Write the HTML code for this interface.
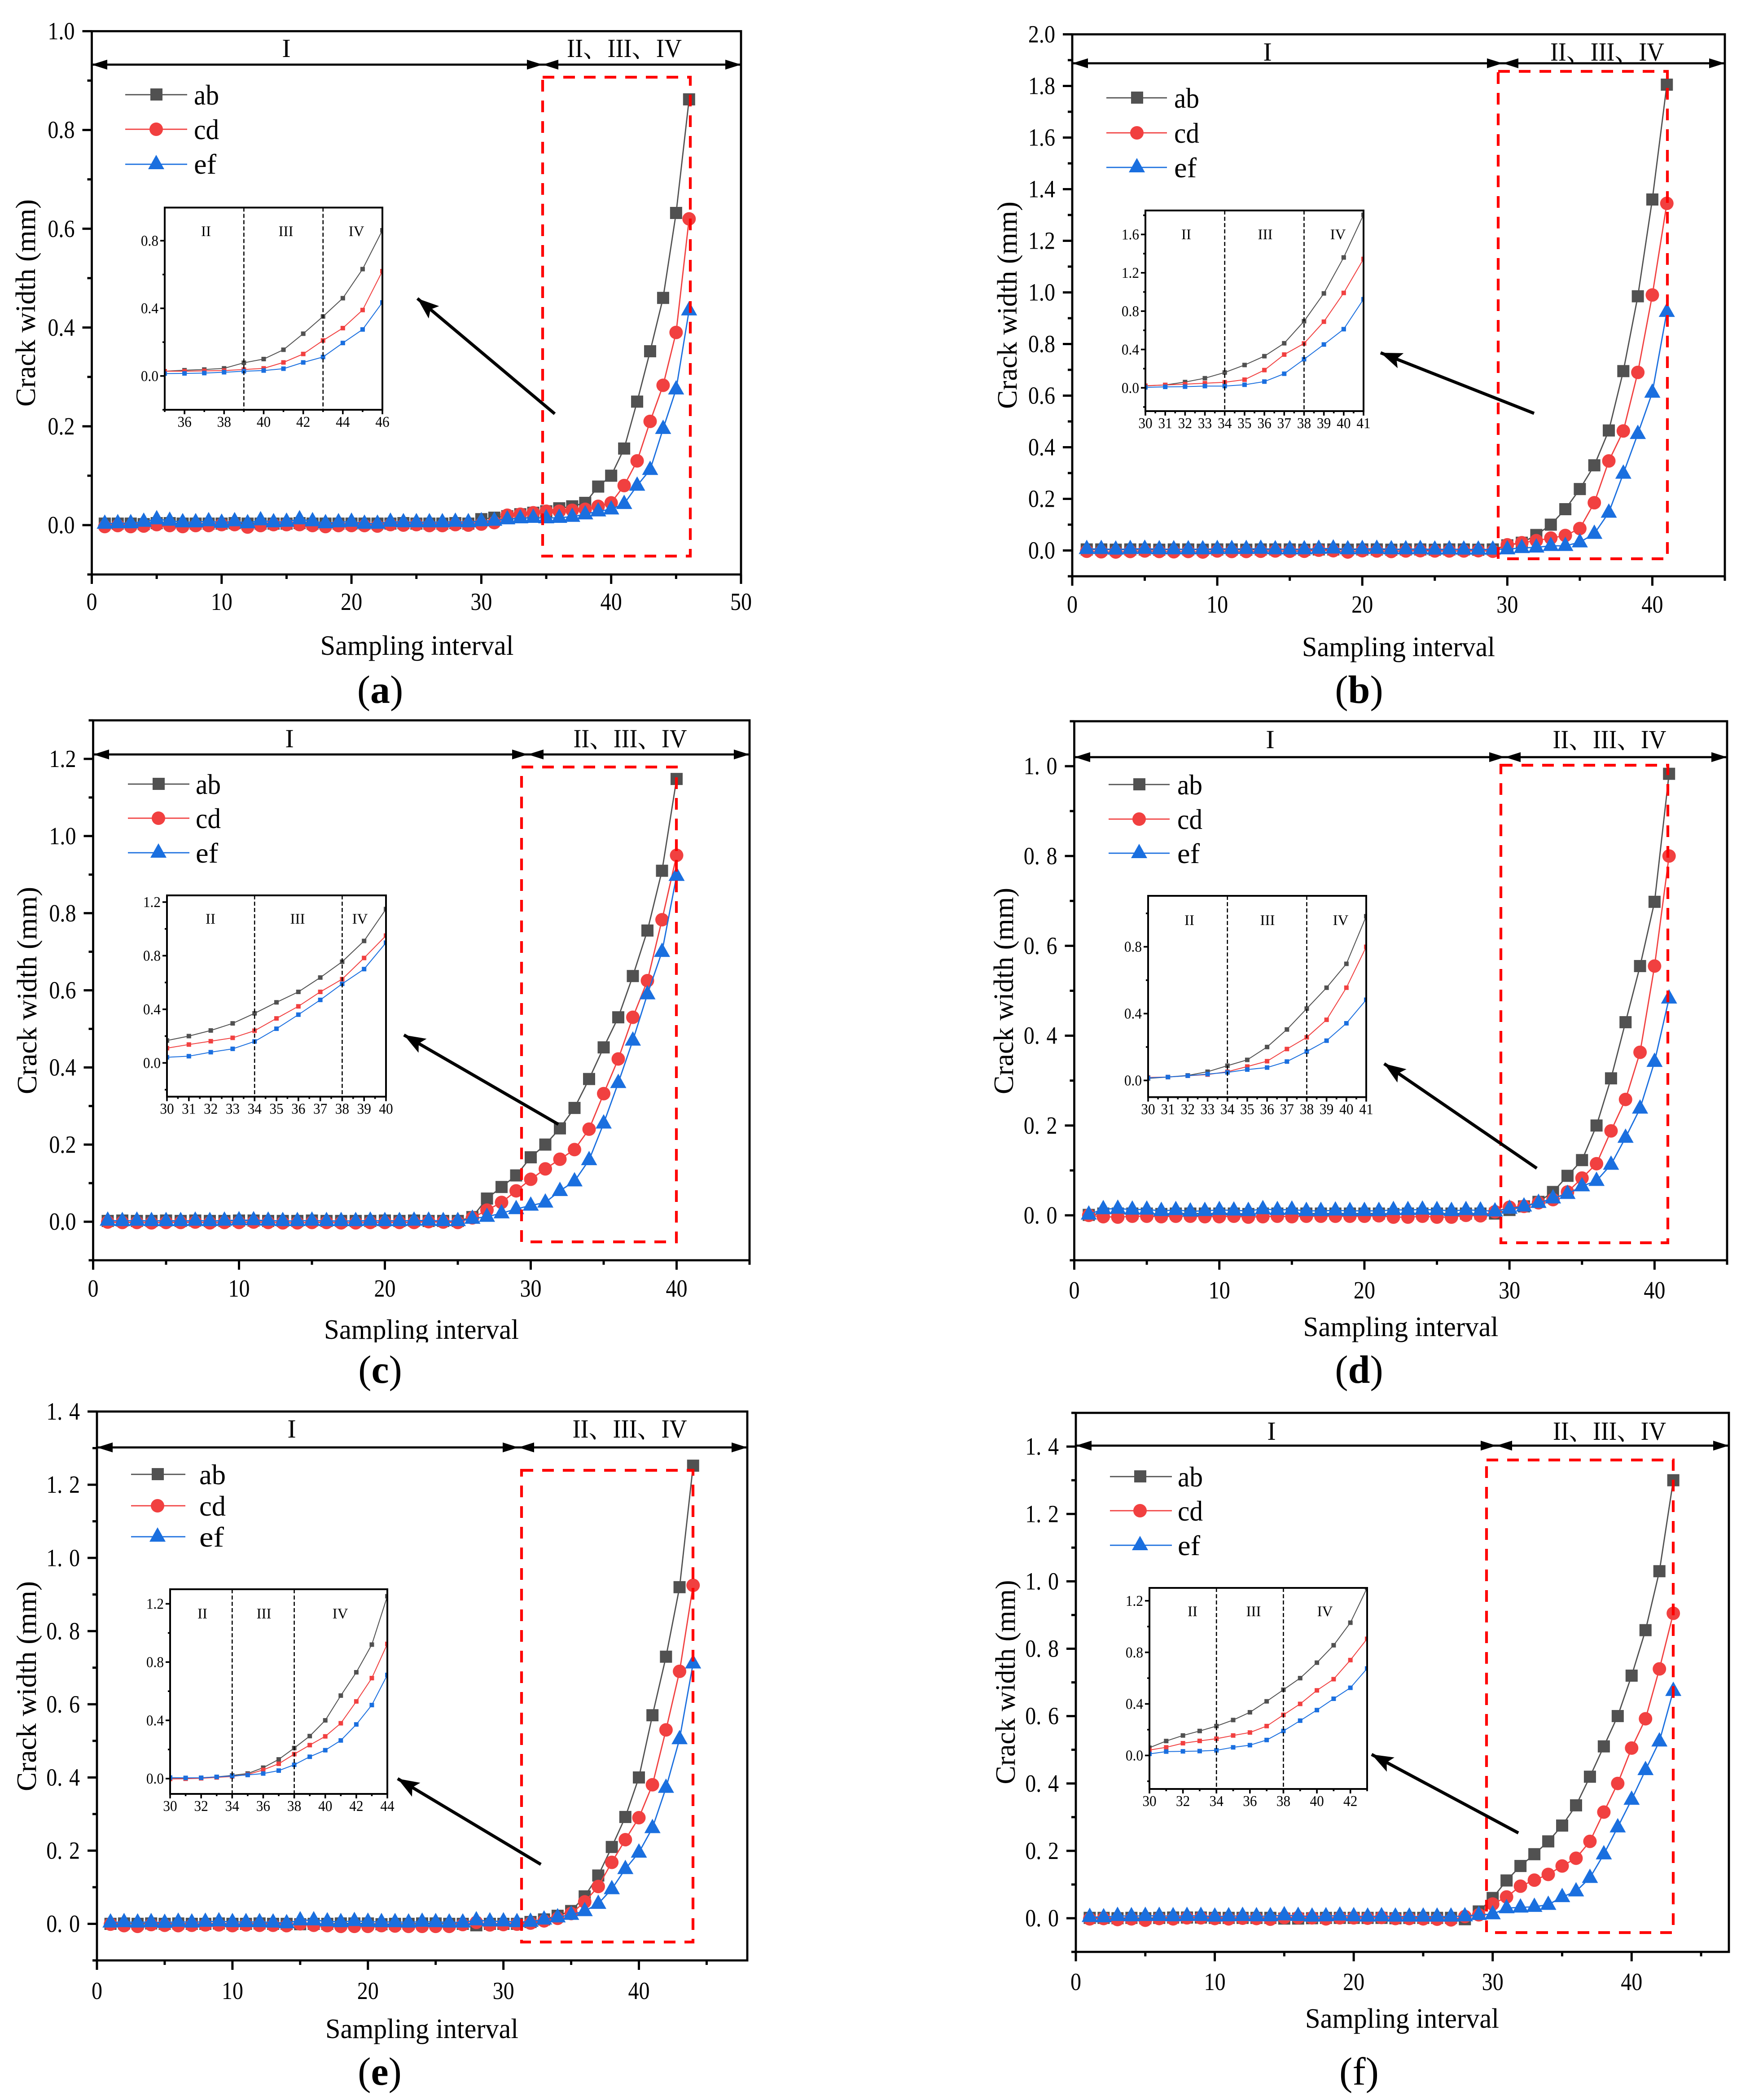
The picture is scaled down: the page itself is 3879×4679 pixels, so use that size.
<!DOCTYPE html>
<html lang="en">
<head>
<meta charset="utf-8">
<title>Crack width versus sampling interval</title>
<style>
html,body{margin:0;padding:0;background:#fff;}
svg{display:block;font-family:"Liberation Serif","Noto Serif CJK SC",serif;fill:#000;}
.frame{fill:none;stroke:#000;stroke-width:4.8;}
.region{font-size:58px;text-anchor:middle;}
.ytitle,.xtitle{font-size:62px;text-anchor:middle;}
.cap{font-size:88px;text-anchor:middle;}
.leg{font-size:64px;}
.inl{font-size:33px;text-anchor:middle;}
.red{fill:none;stroke:#ff0000;stroke-width:6.2;stroke-dasharray:26 20;}
.range{stroke:#000;stroke-width:4.7;marker-start:url(#rangeHead);marker-end:url(#rangeHead);}
.big{stroke:#000;stroke-width:7;marker-end:url(#bigHead);}
.l1{stroke:#515151;stroke-width:2.8;}
.l2{stroke:#f14040;stroke-width:2.8;}
.l3{stroke:#1a6fdf;stroke-width:2.8;}
.m1{fill:#515151;}
.m2{fill:#f14040;}
.m3{fill:#1a6fdf;}
.tick-text{word-spacing:3px;}
</style>
</head>
<body>
<svg id="figure" xmlns="http://www.w3.org/2000/svg" width="3879" height="4679" viewBox="0 0 3879 4679">
<defs>
<marker id="rangeHead" viewBox="0 0 35 22" refX="35" refY="11" markerWidth="35" markerHeight="22" markerUnits="userSpaceOnUse" orient="auto-start-reverse"><path d="M0 0L35 11L0 22z" fill="#000"/></marker>
<marker id="bigHead" viewBox="0 0 48 36" refX="48" refY="18" markerWidth="48" markerHeight="36" markerUnits="userSpaceOnUse" orient="auto"><path d="M0 0L48 18L0 36L10 18z" fill="#000"/></marker>
</defs>
<rect width="3879" height="4679" fill="#fff"/>

<!-- PANEL A -->
<g>
<g id="a-main"></g>
<rect class="red" x="1209" y="172" width="329" height="1067"/>
<line class="range" x1="204" y1="144" x2="1209" y2="144"/>
<line class="range" x1="1209" y1="144" x2="1651" y2="144"/>
<text class="region" x="638" y="127">I</text>
<text class="region" x="1391" y="127" textLength="256" lengthAdjust="spacingAndGlyphs">II、III、IV</text>
<g id="a-inset"></g>
<text class="inl" x="459" y="526">II</text>
<text class="inl" x="637" y="526">III</text>
<text class="inl" x="794" y="526">IV</text>
<line class="big" x1="1236" y1="922" x2="930" y2="665"/>
<g>
<line class="l1" x1="279" x2="417" y1="211" y2="211"/><rect class="m1" x="335" y="197" width="27" height="27"/><text class="leg" x="432" y="233" textLength="56" lengthAdjust="spacingAndGlyphs">ab</text>
<line class="l2" x1="279" x2="417" y1="288" y2="288"/><circle class="m2" cx="348" cy="288" r="15"/><text class="leg" x="432" y="310" textLength="56" lengthAdjust="spacingAndGlyphs">cd</text>
<line class="l3" x1="279" x2="417" y1="366" y2="366"/><polygon class="m3" transform="translate(348,366)" points="-18,11 18,11 0,-21"/><text class="leg" x="432" y="387" textLength="50" lengthAdjust="spacingAndGlyphs">ef</text>
</g>
<text class="ytitle" transform="translate(78,675) rotate(-90)" textLength="462" lengthAdjust="spacingAndGlyphs">Crack width (mm)</text>
<text class="xtitle" x="929" y="1459" textLength="431" lengthAdjust="spacingAndGlyphs">Sampling interval</text>
<text class="cap" x="847" y="1566">(<tspan font-weight="bold">a</tspan>)</text>
</g>

<!-- PANEL B -->
<g>
<g id="b-main"></g>
<rect class="red" x="3338" y="159" width="377" height="1086"/>
<line class="range" x1="2389" y1="141" x2="3348" y2="141"/>
<line class="range" x1="3348" y1="141" x2="3843" y2="141"/>
<text class="region" x="2824" y="135">I</text>
<text class="region" x="3581" y="135" textLength="254" lengthAdjust="spacingAndGlyphs">II、III、IV</text>
<g id="b-inset"></g>
<text class="inl" x="2643" y="533">II</text>
<text class="inl" x="2819" y="533">III</text>
<text class="inl" x="2981" y="533">IV</text>
<line class="big" x1="3418" y1="921" x2="3076" y2="786"/>
<g>
<line class="l1" x1="2465" x2="2600" y1="218" y2="218"/><rect class="m1" x="2520" y="204" width="27" height="27"/><text class="leg" x="2616" y="240" textLength="56" lengthAdjust="spacingAndGlyphs">ab</text>
<line class="l2" x1="2465" x2="2600" y1="296" y2="296"/><circle class="m2" cx="2533" cy="296" r="15"/><text class="leg" x="2616" y="318" textLength="56" lengthAdjust="spacingAndGlyphs">cd</text>
<line class="l3" x1="2465" x2="2600" y1="373" y2="373"/><polygon class="m3" transform="translate(2533,373)" points="-18,11 18,11 0,-21"/><text class="leg" x="2616" y="395" textLength="50" lengthAdjust="spacingAndGlyphs">ef</text>
</g>
<text class="ytitle" transform="translate(2265,680) rotate(-90)" textLength="462" lengthAdjust="spacingAndGlyphs">Crack width (mm)</text>
<text class="xtitle" x="3116" y="1462" textLength="430" lengthAdjust="spacingAndGlyphs">Sampling interval</text>
<text class="cap" x="3028" y="1566">(<tspan font-weight="bold">b</tspan>)</text>
</g>

<!-- PANEL C -->
<g>
<g id="c-main"></g>
<rect class="red" x="1162" y="1709" width="345" height="1058"/>
<line class="range" x1="208" y1="1681" x2="1176" y2="1681"/>
<line class="range" x1="1176" y1="1681" x2="1670" y2="1681"/>
<text class="region" x="645" y="1665">I</text>
<text class="region" x="1404" y="1665" textLength="253" lengthAdjust="spacingAndGlyphs">II、III、IV</text>
<g id="c-inset"></g>
<text class="inl" x="469" y="2058">II</text>
<text class="inl" x="663" y="2058">III</text>
<text class="inl" x="802" y="2058">IV</text>
<line class="big" x1="1244" y1="2505" x2="900" y2="2306"/>
<g>
<line class="l1" x1="285" x2="422" y1="1747" y2="1747"/><rect class="m1" x="340" y="1733" width="27" height="27"/><text class="leg" x="436" y="1769" textLength="56" lengthAdjust="spacingAndGlyphs">ab</text>
<line class="l2" x1="285" x2="422" y1="1823" y2="1823"/><circle class="m2" cx="353" cy="1823" r="15"/><text class="leg" x="436" y="1845" textLength="56" lengthAdjust="spacingAndGlyphs">cd</text>
<line class="l3" x1="285" x2="422" y1="1900" y2="1900"/><polygon class="m3" transform="translate(353,1900)" points="-18,11 18,11 0,-21"/><text class="leg" x="436" y="1922" textLength="50" lengthAdjust="spacingAndGlyphs">ef</text>
</g>
<text class="ytitle" transform="translate(81,2207) rotate(-90)" textLength="462" lengthAdjust="spacingAndGlyphs">Crack width (mm)</text>
<text class="xtitle" x="939" y="2983" textLength="434" lengthAdjust="spacingAndGlyphs">Sampling interval</text>
<rect x="700" y="2991" width="480" height="12" fill="#fff"/>
<text class="cap" x="847" y="3081">(<tspan font-weight="bold">c</tspan>)</text>
</g>

<!-- PANEL D -->
<g>
<g id="d-main"></g>
<rect class="red" x="3344" y="1705" width="372" height="1064"/>
<line class="range" x1="2394" y1="1687" x2="3353" y2="1687"/>
<line class="range" x1="3353" y1="1687" x2="3848" y2="1687"/>
<text class="region" x="2830" y="1667">I</text>
<text class="region" x="3586" y="1667" textLength="253" lengthAdjust="spacingAndGlyphs">II、III、IV</text>
<g id="d-inset"></g>
<text class="inl" x="2650" y="2061">II</text>
<text class="inl" x="2824" y="2061">III</text>
<text class="inl" x="2987" y="2061">IV</text>
<line class="big" x1="3424" y1="2603" x2="3084" y2="2370"/>
<g>
<line class="l1" x1="2470" x2="2606" y1="1748" y2="1748"/><rect class="m1" x="2525" y="1734" width="27" height="27"/><text class="leg" x="2623" y="1770" textLength="56" lengthAdjust="spacingAndGlyphs">ab</text>
<line class="l2" x1="2470" x2="2606" y1="1825" y2="1825"/><circle class="m2" cx="2538" cy="1825" r="15"/><text class="leg" x="2623" y="1847" textLength="56" lengthAdjust="spacingAndGlyphs">cd</text>
<line class="l3" x1="2470" x2="2606" y1="1901" y2="1901"/><polygon class="m3" transform="translate(2538,1901)" points="-18,11 18,11 0,-21"/><text class="leg" x="2623" y="1923" textLength="50" lengthAdjust="spacingAndGlyphs">ef</text>
</g>
<text class="ytitle" transform="translate(2257,2208) rotate(-90)" textLength="460" lengthAdjust="spacingAndGlyphs">Crack width (mm)</text>
<text class="xtitle" x="3121" y="2977" textLength="435" lengthAdjust="spacingAndGlyphs">Sampling interval</text>
<text class="cap" x="3028" y="3081">(<tspan font-weight="bold">d</tspan>)</text>
</g>

<!-- PANEL E -->
<g>
<g id="e-main"></g>
<rect class="red" x="1162" y="3276" width="382" height="1051"/>
<line class="range" x1="216" y1="3225" x2="1155" y2="3225"/>
<line class="range" x1="1155" y1="3225" x2="1665" y2="3225"/>
<text class="region" x="650" y="3203">I</text>
<text class="region" x="1403" y="3203" textLength="255" lengthAdjust="spacingAndGlyphs">II、III、IV</text>
<g id="e-inset"></g>
<text class="inl" x="451" y="3606">II</text>
<text class="inl" x="588" y="3606">III</text>
<text class="inl" x="758" y="3606">IV</text>
<line class="big" x1="1205" y1="4154" x2="886" y2="3963"/>
<g>
<line class="l1" x1="292" x2="413" y1="3285" y2="3285"/><rect class="m1" x="338" y="3271" width="27" height="27"/><text class="leg" x="444" y="3307" textLength="59" lengthAdjust="spacingAndGlyphs">ab</text>
<line class="l2" x1="292" x2="413" y1="3355" y2="3355"/><circle class="m2" cx="351" cy="3355" r="15"/><text class="leg" x="444" y="3377" textLength="59" lengthAdjust="spacingAndGlyphs">cd</text>
<line class="l3" x1="292" x2="413" y1="3424" y2="3424"/><polygon class="m3" transform="translate(351,3424)" points="-18,11 18,11 0,-21"/><text class="leg" x="444" y="3446" textLength="55" lengthAdjust="spacingAndGlyphs">ef</text>
</g>
<text class="ytitle" transform="translate(80,3757) rotate(-90)" textLength="468" lengthAdjust="spacingAndGlyphs">Crack width (mm)</text>
<text class="xtitle" x="940" y="4541" textLength="430" lengthAdjust="spacingAndGlyphs">Sampling interval</text>
<text class="cap" x="846" y="4645">(<tspan font-weight="bold">e</tspan>)</text>
</g>

<!-- PANEL F -->
<g>
<g id="f-main"></g>
<rect class="red" x="3312" y="3253" width="416" height="1053"/>
<line class="range" x1="2397" y1="3221" x2="3334" y2="3221"/>
<line class="range" x1="3334" y1="3221" x2="3852" y2="3221"/>
<text class="region" x="2833" y="3208">I</text>
<text class="region" x="3586" y="3208" textLength="252" lengthAdjust="spacingAndGlyphs">II、III、IV</text>
<g id="f-inset"></g>
<text class="inl" x="2657" y="3601">II</text>
<text class="inl" x="2793" y="3601">III</text>
<text class="inl" x="2952" y="3601">IV</text>
<line class="big" x1="3383" y1="4084" x2="3056" y2="3909"/>
<g>
<line class="l1" x1="2473" x2="2611" y1="3290" y2="3290"/><rect class="m1" x="2527" y="3276" width="27" height="27"/><text class="leg" x="2624" y="3312" textLength="56" lengthAdjust="spacingAndGlyphs">ab</text>
<line class="l2" x1="2473" x2="2611" y1="3366" y2="3366"/><circle class="m2" cx="2540" cy="3366" r="15"/><text class="leg" x="2624" y="3388" textLength="56" lengthAdjust="spacingAndGlyphs">cd</text>
<line class="l3" x1="2473" x2="2611" y1="3443" y2="3443"/><polygon class="m3" transform="translate(2540,3443)" points="-18,11 18,11 0,-21"/><text class="leg" x="2624" y="3465" textLength="50" lengthAdjust="spacingAndGlyphs">ef</text>
</g>
<text class="ytitle" transform="translate(2261,3748) rotate(-90)" textLength="455" lengthAdjust="spacingAndGlyphs">Crack width (mm)</text>
<text class="xtitle" x="3124" y="4518" textLength="432" lengthAdjust="spacingAndGlyphs">Sampling interval</text>
<text class="cap" x="3028" y="4645">(f)</text>
</g>
</svg>

<script>
// ---------- series values (crack width, mm) at sampling intervals 1..N ----------
const aAb=[.003,.003,.003,.002,.004,.004,.003,.003,.003,.003,.004,.003,.003,.003,.003,.004,.003,.003,.003,.003,.003,.003,.003,.004,.003,.003,.003,.004,.003,.012,.015,.018,.022,.025,.028,.034,.038,.045,.078,.1,.155,.25,.352,.46,.632,.862];
const aCd=[-.003,-.001,-.003,-.002,.001,-.001,-.003,-.001,-.001,.001,.001,-.004,-.001,.001,.001,.001,-.001,-.003,-.001,-.001,-.001,-.002,.001,0,.001,-.001,-.001,.001,0,.002,.005,.02,.022,.025,.028,.028,.03,.032,.038,.045,.08,.13,.21,.283,.39,.62];
const aEf=[.003,.004,.004,.007,.012,.009,.006,.006,.008,.005,.008,.004,.01,.006,.007,.012,.008,.004,.006,.007,.003,.003,.007,.006,.006,.006,.006,.007,.006,.008,.009,.012,.014,.015,.014,.015,.017,.022,.028,.032,.043,.08,.112,.195,.275,.435];

const bAb=[.004,.004,.003,.004,.004,.003,.004,.004,.003,.004,.004,.003,.004,.004,.004,.003,.004,.004,.003,.004,.004,.003,.004,.004,.003,.004,.004,.003,.004,.02,.03,.06,.1,.16,.238,.33,.465,.695,.985,1.36,1.805];
const bCd=[-.003,-.005,-.006,-.004,-.002,-.004,-.005,-.004,-.006,-.002,-.004,-.004,-.003,-.002,-.003,-.003,.001,-.001,-.006,-.001,-.002,-.004,-.002,-.001,-.002,-.002,-.002,-.001,-.003,.022,.03,.038,.048,.058,.085,.185,.347,.463,.69,.99,1.345];
const bEf=[.006,.006,.004,.006,.007,.005,.005,.005,.005,.006,.006,.006,.007,.005,.005,.005,.007,.008,.005,.006,.007,.005,.005,.006,.004,.005,.004,.004,.004,.005,.01,.012,.018,.018,.032,.065,.147,.298,.452,.612,.925];

const cAb=[.002,.003,.002,.002,.003,.002,.003,.002,.002,.003,.003,.002,.002,.002,.003,.002,.002,.002,.002,.003,.002,.003,.002,.002,.002,.012,.06,.09,.12,.167,.2,.242,.295,.37,.452,.53,.637,.755,.91,1.148];
const cCd=[-.001,-.002,-.002,-.003,-.002,-.002,-.001,-.003,-.002,-.002,-.001,-.002,-.003,-.003,-.002,-.002,-.003,-.003,-.002,-.002,-.002,-.002,0,-.001,-.002,.01,.03,.05,.08,.11,.137,.162,.187,.24,.332,.422,.53,.625,.783,.95];
const cEf=[.003,.002,.003,.002,.002,.002,.003,.002,.003,.004,.004,.003,.002,.002,.003,.002,.002,.002,.003,.002,.002,.003,.003,.002,.002,.008,.013,.022,.033,.042,.05,.08,.105,.16,.255,.36,.47,.59,.7,.897];

const dAb=[.001,.004,.004,.004,.004,.003,.004,.004,.004,.004,.004,.003,.004,.004,.004,.004,.004,.004,.004,.004,.004,.003,.004,.004,.004,.004,.004,.004,.004,.012,.02,.03,.052,.088,.123,.2,.305,.43,.555,.698,.983];
const dCd=[0,-.003,-.004,-.002,-.002,-.003,-.002,-.002,-.003,-.003,-.002,-.004,-.003,-.002,-.003,-.002,-.002,-.002,-.002,-.002,-.001,-.004,-.004,-.002,-.004,-.004,0,-.001,.008,.018,.02,.028,.035,.052,.083,.115,.188,.258,.363,.555,.8];
const dEf=[.002,.014,.015,.013,.013,.01,.012,.009,.01,.012,.011,.01,.014,.012,.013,.01,.01,.011,.01,.01,.01,.012,.012,.013,.012,.01,.012,.011,.009,.015,.02,.028,.038,.048,.065,.077,.113,.173,.238,.342,.483];

const eAb=[0,.001,0,.001,0,.001,0,0,.001,0,0,.001,0,0,-.001,0,0,.001,.001,.001,-.001,0,0,.001,.001,0,0,-.004,0,0,0,.005,.012,.022,.035,.075,.132,.21,.292,.4,.57,.73,.92,1.252];
const eCd=[-.001,-.005,-.007,-.002,-.004,-.005,-.004,-.003,-.003,-.005,-.003,-.004,-.004,-.005,0,-.004,-.005,-.007,-.007,-.007,-.005,-.006,-.007,-.007,-.007,-.007,-.002,.004,-.003,-.002,-.001,.002,.008,.015,.028,.06,.102,.168,.23,.29,.38,.53,.69,.925];
const eEf=[.004,.005,.004,.005,.003,.006,.004,.006,.007,.005,.005,.005,.004,.002,.01,.01,.007,.005,.008,.006,.005,.005,.004,.006,.005,.004,.004,.01,.007,.007,.005,.006,.012,.018,.025,.035,.055,.095,.15,.195,.262,.372,.505,.712];

const fAb=[.001,.001,0,.001,0,.001,.002,.002,.002,.001,.001,.001,.001,.001,-.001,-.001,0,.001,.001,.001,.001,.001,0,.001,.001,.001,.001,-.003,.02,.06,.112,.155,.19,.228,.275,.335,.42,.51,.6,.72,.855,1.03,1.3];
const fCd=[-.002,-.001,-.004,-.002,-.006,-.001,-.002,.001,.001,-.001,-.002,0,-.001,-.003,.002,.002,.001,-.002,.001,.001,0,.002,-.001,-.001,-.002,-.003,-.005,.005,.01,.042,.063,.095,.113,.13,.155,.178,.228,.315,.4,.505,.592,.74,.905];
const fEf=[.004,.003,.007,.006,.007,.007,.006,.007,.007,.005,.006,.007,.006,.006,.009,.007,.005,.006,.008,.006,.005,.006,.005,.005,.005,.005,.005,.006,.01,.012,.03,.032,.034,.04,.063,.08,.12,.19,.27,.352,.44,.525,.675];

// ---------- tick labels ----------
const aXLabels=['0','10','20','30','40','50'];
const aYLabels=['0.0','0.2','0.4','0.6','0.8','1.0'];
const bXLabels=['0','10','20','30','40'];
const bYLabels=['0.0','0.2','0.4','0.6','0.8','1.0','1.2','1.4','1.6','1.8','2.0'];
const cXLabels=['0','10','20','30','40'];
const cYLabels=['0.0','0.2','0.4','0.6','0.8','1.0','1.2'];
const dXLabels=['0','10','20','30','40'];
const dYLabels=['0. 0','0. 2','0. 4','0. 6','0. 8','1. 0'];
const eXLabels=['0','10','20','30','40'];
const eYLabels=['0. 0','0. 2','0. 4','0. 6','0. 8','1. 0','1. 2','1. 4'];
const fXLabels=['0','10','20','30','40'];
const fYLabels=['0. 0','0. 2','0. 4','0. 6','0. 8','1. 0','1. 2','1. 4'];

const aInsetX=['36','38','40','42','44','46'];
const aInsetY=['0.0','0.4','0.8'];
const bInsetX=['30','31','32','33','34','35','36','37','38','39','40','41'];
const bInsetY=['0.0','0.4','0.8','1.2','1.6'];
const cInsetX=['30','31','32','33','34','35','36','37','38','39','40'];
const cInsetY=['0.0','0.4','0.8','1.2'];
const dInsetX=['30','31','32','33','34','35','36','37','38','39','40','41'];
const dInsetY=['0.0','0.4','0.8'];
const eInsetX=['30','32','34','36','38','40','42','44'];
const eInsetY=['0.0','0.4','0.8','1.2'];
const fInsetX=['30','32','34','36','38','40','42'];
const fInsetY=['0.0','0.4','0.8','1.2'];

// stage boundaries in each inset (sampling interval)
const aStages=[39,43];
const bStages=[34,38];
const cStages=[34,38];
const dStages=[34,38];
const eStages=[34,38];
const fStages=[34,38];

// ---------- layout ----------
const panels=[
 {id:'a',ab:aAb,cd:aCd,ef:aEf,xl:aXLabels,yl:aYLabels,box:[204.5,1651,69.5,1280],xd:[0,50],yd:[-.1,1],xDy:79,
  ins:{xl:aInsetX,yl:aInsetY,st:aStages,box:[367,852,462.5,913],xd:[35,46],yd:[-.2,.996],xm:1,ym:.2}},
 {id:'b',ab:bAb,cd:bCd,ef:bEf,xl:bXLabels,yl:bYLabels,box:[2389,3843,76.5,1284],xd:[0,45],yd:[-.1,2],xDy:81,
  ins:{xl:bInsetX,yl:bInsetY,st:bStages,box:[2552,3038,469,916],xd:[30,41],yd:[-.243,1.85],xm:.5,ym:.2}},
 {id:'c',ab:cAb,cd:cCd,ef:cEf,xl:cXLabels,yl:cYLabels,box:[207.5,1670,1605,2808],xd:[0,45],yd:[-.1,1.3],xDy:81,
  ins:{xl:cInsetX,yl:cInsetY,st:cStages,box:[372,860,1995,2443.5],xd:[30,40],yd:[-.252,1.25],xm:.5,ym:.2}},
 {id:'d',ab:dAb,cd:dCd,ef:dEf,xl:dXLabels,yl:dYLabels,box:[2393.5,3848,1607,2808],xd:[0,45],yd:[-.1,1.1],xDy:85,
  ins:{xl:dInsetX,yl:dInsetY,st:dStages,box:[2558,3044,1996,2444.5],xd:[30,41],yd:[-.1,1.105],xm:.5,ym:.2}},
 {id:'e',ab:eAb,cd:eCd,ef:eEf,xl:eXLabels,yl:eYLabels,box:[216,1665,3145,4368],xd:[0,48],yd:[-.1,1.4],xDy:86,
  ins:{xl:eInsetX,yl:eInsetY,st:eStages,box:[379,863,3541,3997],xd:[30,44],yd:[-.105,1.3],xm:1,ym:.2}},
 {id:'f',ab:fAb,cd:fCd,ef:fEf,xl:fXLabels,yl:fYLabels,box:[2397,3852,3148,4349],xd:[0,47],yd:[-.1,1.5],xDy:85,
  ins:{xl:fInsetX,yl:fInsetY,st:fStages,box:[2561,3046,3538,3986],xd:[30,43],yd:[-.26,1.3],xm:1,ym:.2}}
];
const SVGNS='http://www.w3.org/2000/svg';
function mk(tag,attrs,parent){
  const n=document.createElementNS(SVGNS,tag);
  for(const k in attrs){n.setAttribute(k,attrs[k]);}
  parent.appendChild(n);
  return n;
}
function axisX(d,box){return v=>box[0]+(v-d[0])/(d[1]-d[0])*(box[1]-box[0]);}
function axisY(d,box){return v=>box[3]-(v-d[0])/(d[1]-d[0])*(box[3]-box[2]);}
function num(label){return parseFloat(label.replace(' ',''));}
function steps(d,step){
  const out=[];
  const first=Math.ceil(d[0]/step-1e-6);
  for(let k=first;k*step<=d[1]+1e-6;k++){out.push(k*step);}
  return out;
}
function isMajor(v,majors){return majors.some(m=>Math.abs(m-v)<1e-6);}

function drawTicks(g,X,Y,box,xl,yl,xStep,yStep,o){
  const xMaj=xl.map(num), yMaj=yl.map(num);
  for(const v of steps([X.d0,X.d1],xStep)){
    const major=isMajor(v,xMaj);
    const t=mk('line',{x1:X(v),x2:X(v),y1:box[3],y2:box[3]+(major?o.maj:o.min),stroke:'#000','stroke-width':o.w},g);
    
    
  }
  for(const v of steps([Y.d0,Y.d1],yStep)){
    const major=isMajor(v,yMaj);
    const t=mk('line',{x1:box[0]-(major?o.maj:o.min),x2:box[0],y1:Y(v),y2:Y(v),stroke:'#000','stroke-width':o.w},g);
    
    
  }
  xl.forEach(s=>{
    const t=mk('text',{transform:`translate(${X(num(s))},${box[3]+o.xDy}) scale(${o.sx},1)`,'font-size':o.fs,'text-anchor':'middle'},g);
    t.textContent=s;
    
    
  });
  yl.forEach(s=>{
    const t=mk('text',{transform:`translate(${box[0]-o.yDx},${Y(num(s))+o.fs*.33}) scale(${o.sx},1)`,'font-size':o.fs,'text-anchor':'end',class:'tick-text'},g);
    t.textContent=s;
    
    
  });
}
function linePath(vals,xs,X,Y,keep){
  let d='';
  vals.forEach((v,i)=>{
    if(!keep(xs[i]))return;
    d+=(d?'L':'M')+X(xs[i]).toFixed(1)+' '+Y(v).toFixed(1);
  });
  return d;
}

panels.forEach(p=>{
  const g=document.getElementById(p.id+'-main');
  const X=axisX(p.xd,p.box), Y=axisY(p.yd,p.box);
  X.d0=p.xd[0];X.d1=p.xd[1];Y.d0=p.yd[0];Y.d1=p.yd[1];
  const fr=mk('rect',{x:p.box[0],y:p.box[2],width:p.box[1]-p.box[0],height:p.box[3]-p.box[2],class:'frame'},g);
  
  
  drawTicks(g,X,Y,p.box,p.xl,p.yl,5,.1,{maj:21,min:10,w:5,xDy:p.xDy,yDx:38,fs:55,sx:.875});

  const seriesKeys=['ab','cd','ef'];
  seriesKeys.forEach((key,si)=>{
    const vals=p[key];
    const xs=vals.map((_,i)=>i+1);
    const path=mk('path',{d:linePath(vals,xs,X,Y,()=>true),fill:'none',class:'l'+(si+1)},g);
    
    
    vals.forEach((v,i)=>{
      const cx=X(xs[i]), cy=Y(v);
      let m;
      if(si===0){m=mk('rect',{x:cx-13.5,y:cy-13.5,width:27,height:27,class:'m1'},g);}
      else if(si===1){m=mk('circle',{cx:cx,cy:cy,r:15,class:'m2'},g);}
      else{m=mk('polygon',{points:`${cx-18},${cy+11.5} ${cx+18},${cy+11.5} ${cx},${cy-20.5}`,class:'m3'},g);}
      
      
    });
  });

  // inset: re-plots the same series over the zoom window
  const ins=p.ins;
  const ig=document.getElementById(p.id+'-inset');
  const IX=axisX(ins.xd,ins.box), IY=axisY(ins.yd,ins.box);
  IX.d0=ins.xd[0];IX.d1=ins.xd[1];IY.d0=ins.yd[0];IY.d1=ins.yd[1];
  const bg=mk('rect',{x:ins.box[0],y:ins.box[2],width:ins.box[1]-ins.box[0],height:ins.box[3]-ins.box[2],fill:'#fff'},ig);
  
  
  const cp=mk('clipPath',{id:'clip-'+p.id},ig);
  mk('rect',{x:ins.box[0],y:ins.box[2],width:ins.box[1]-ins.box[0],height:ins.box[3]-ins.box[2]},cp);
  const clipped=mk('g',{'clip-path':`url(#clip-${p.id})`},ig);
  
  
  seriesKeys.forEach((key,si)=>{
    const vals=p[key];
    const xs=vals.map((_,i)=>i+1);
    const keep=x=>x>=ins.xd[0];
    const path=mk('path',{d:linePath(vals,xs,IX,IY,keep),fill:'none',class:'l'+(si+1),style:'stroke-width:2'},clipped);
    
    
    vals.forEach((v,i)=>{
      if(!keep(xs[i]))return;
      const m=mk('rect',{x:IX(xs[i])-5,y:IY(v)-5,width:10,height:10,class:'m'+(si+1)},clipped);
      
      
    });
  });
  ins.st.forEach(s=>{
    const l=mk('line',{x1:IX(s),x2:IX(s),y1:ins.box[2],y2:ins.box[3],stroke:'#000','stroke-width':2.6,'stroke-dasharray':'9 5'},ig);
    
    
  });
  const ifr=mk('rect',{x:ins.box[0],y:ins.box[2],width:ins.box[1]-ins.box[0],height:ins.box[3]-ins.box[2],class:'frame',style:'stroke-width:4'},ig);
  
  
  drawTicks(ig,IX,IY,ins.box,ins.xl,ins.yl,ins.xm,ins.ym,{maj:10,min:5,w:3.6,xDy:38,yDx:14,fs:34,sx:.92});
});
</script>
</body>
</html>
